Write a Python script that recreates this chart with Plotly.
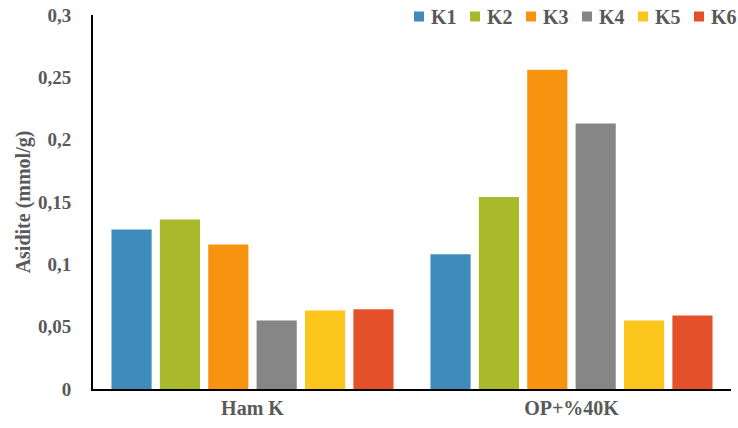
import plotly.graph_objects as go

categories = ["Ham K", "OP+%40K"]
series_names = ["K1", "K2", "K3", "K4", "K5", "K6"]
values = {
    "K1": [0.128, 0.108],
    "K2": [0.136, 0.154],
    "K3": [0.116, 0.256],
    "K4": [0.055, 0.213],
    "K5": [0.063, 0.055],
    "K6": [0.064, 0.059],
}
colors = {
    "K1": "#3f8bbc",
    "K2": "#a9b92c",
    "K3": "#f7930f",
    "K4": "#868686",
    "K5": "#fcc61d",
    "K6": "#e4502a",
}
y_ticks = [0, 0.05, 0.1, 0.15, 0.2, 0.25, 0.3]
y_tick_labels = ["0", "0,05", "0,1", "0,15", "0,2", "0,25", "0,3"]

font_family = "Liberation Serif"
text_color = "#595959"

# plot-area geometry (pixels)
W, H = 738, 428
M_L, M_R, M_T, M_B = 93, 7, 15, 39

fig = go.Figure()
for name in series_names:
    fig.add_trace(go.Bar(
        name=name,
        x=categories,
        y=values[name],
        marker=dict(color=colors[name], line=dict(width=0)),
        showlegend=False,
    ))

# horizontal key along the top-right edge: small square + label per series
key_start = 414 - M_L      # offset of the first square from the plot's left edge
key_pitch = 56
key_size = 10
key_text_gap = 15
key_center = -1.5           # vertical offset of the key row from the plot top
shapes, annotations = [], []
for i, name in enumerate(series_names):
    x0 = key_start + i * key_pitch
    shapes.append(dict(
        type="rect", xref="paper", yref="paper",
        xsizemode="pixel", ysizemode="pixel",
        xanchor=0, yanchor=1,
        x0=x0, x1=x0 + key_size,
        y0=key_center - key_size / 2, y1=key_center + key_size / 2,
        fillcolor=colors[name], line=dict(width=0),
    ))
    annotations.append(dict(
        text=name, xref="paper", yref="paper", x=0, y=1,
        xshift=x0 + key_text_gap, yshift=key_center,
        xanchor="left", yanchor="middle", showarrow=False,
        font=dict(family=font_family, size=20, color=text_color, weight="bold"),
    ))

fig.update_layout(
    width=W,
    height=H,
    margin=dict(l=M_L, r=M_R, t=M_T, b=M_B, autoexpand=False),
    paper_bgcolor="white",
    plot_bgcolor="white",
    barmode="group",
    bargap=0.09,
    bargroupgap=0.17,
    font=dict(family=font_family, size=19, color=text_color, weight="bold"),
    shapes=shapes,
    annotations=annotations,
)

fig.update_xaxes(
    showline=True, linecolor="black", linewidth=2,
    showgrid=False, ticks="",
    tickfont=dict(family=font_family, size=20, color=text_color, weight="bold"),
)
fig.update_yaxes(
    range=[0, 0.3],
    tickvals=y_ticks, ticktext=y_tick_labels,
    showline=True, linecolor="black", linewidth=2,
    showgrid=False, zeroline=False, ticks="",
    ticklabelstandoff=16,
    tickfont=dict(family=font_family, size=19, color=text_color, weight="bold"),
    title=dict(text="Asidite (mmol/g)", standoff=2,
               font=dict(family=font_family, size=20, color=text_color, weight="bold")),
)

fig.write_html("out.html")
